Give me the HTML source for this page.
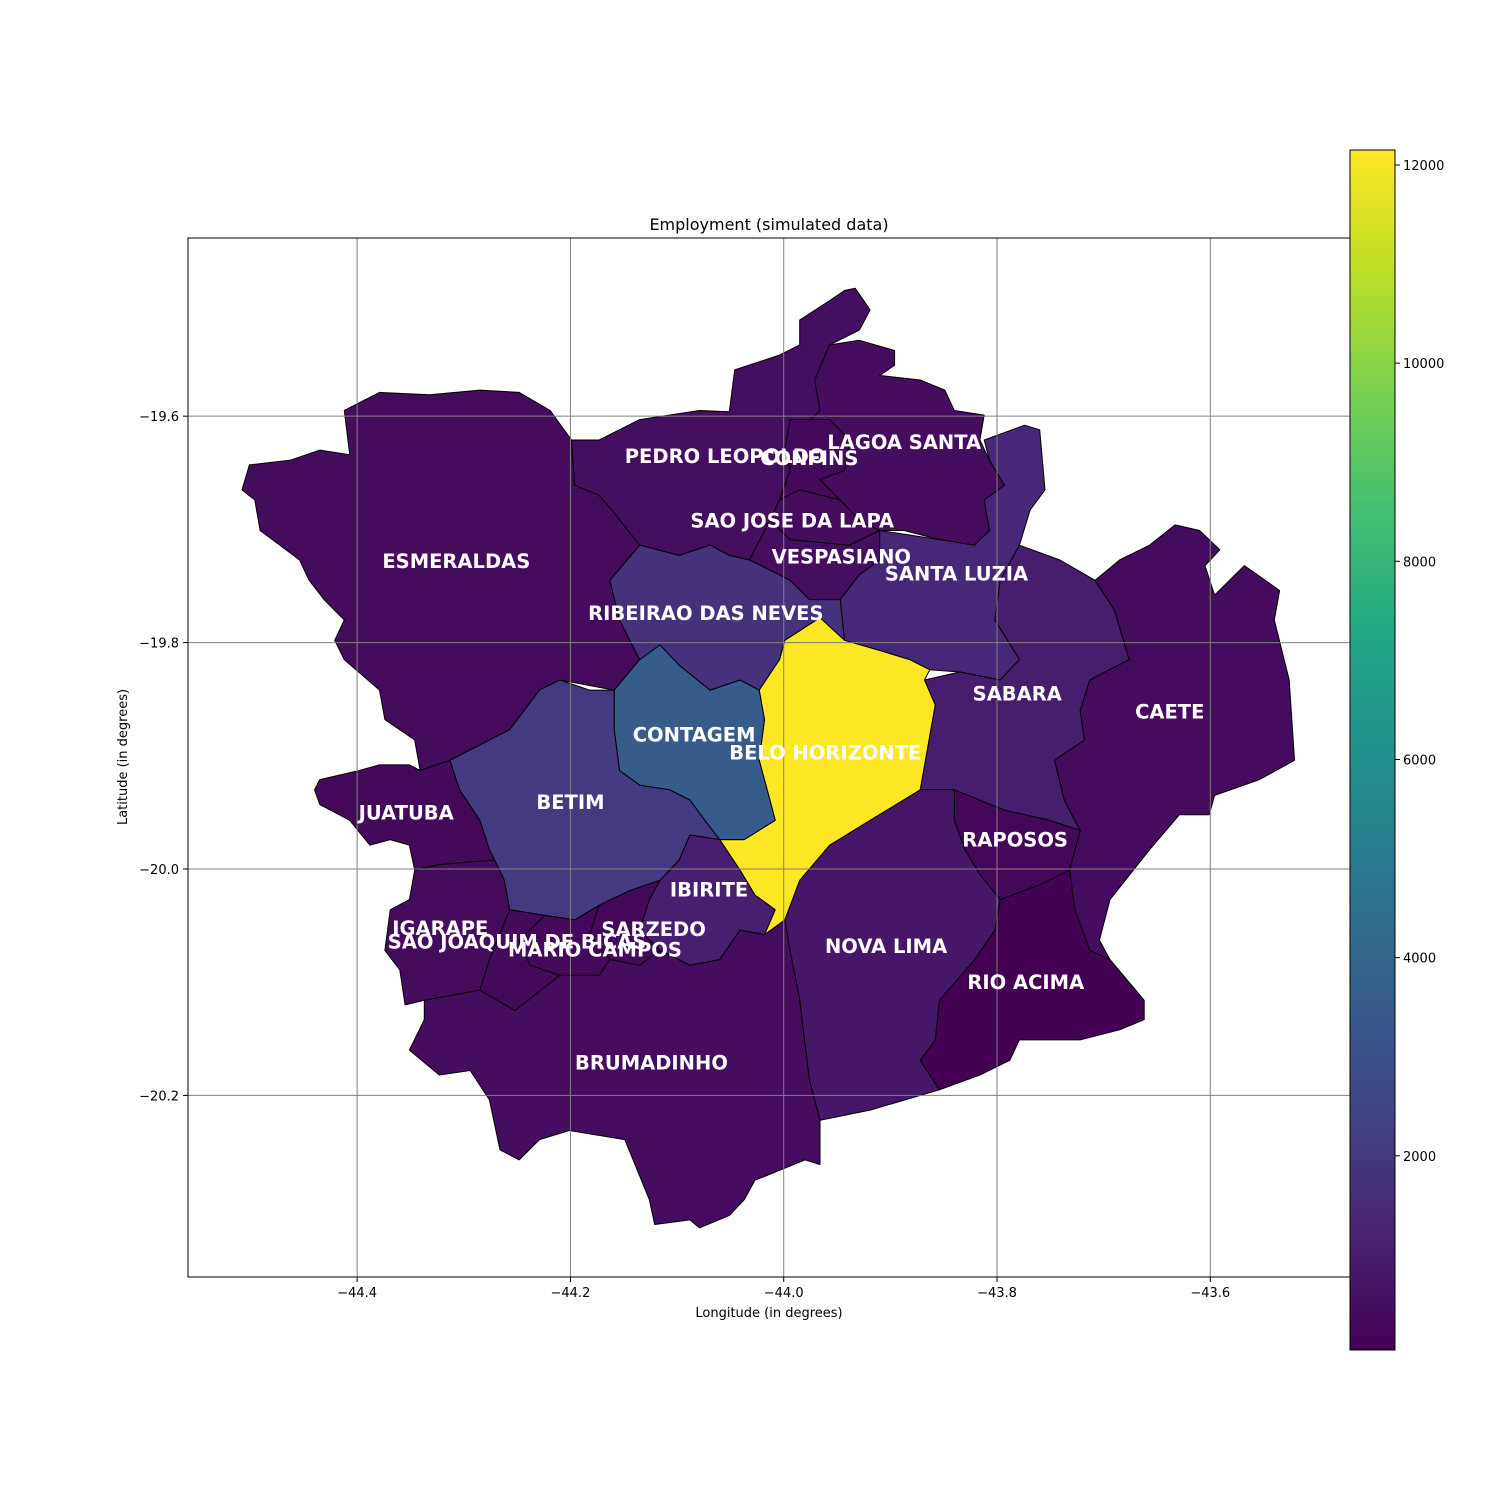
<!DOCTYPE html>
<html><head><meta charset="utf-8"><style>
html,body{margin:0;padding:0;background:#fff;}
svg{display:block;font-family:"DejaVu Sans","Liberation Sans",sans-serif;}
</style></head><body>
<svg id="chart" width="1500" height="1500" viewBox="0 0 1500 1500" xmlns="http://www.w3.org/2000/svg">
<rect width="1500" height="1500" fill="#fff"/>
<defs>
<linearGradient id="vir" x1="0" y1="1" x2="0" y2="0">
<stop offset="0" stop-color="#440154"/><stop offset="0.1" stop-color="#482475"/><stop offset="0.2" stop-color="#414487"/><stop offset="0.3" stop-color="#355f8d"/><stop offset="0.4" stop-color="#2a788e"/><stop offset="0.5" stop-color="#21918c"/><stop offset="0.6" stop-color="#22a884"/><stop offset="0.7" stop-color="#44bf70"/><stop offset="0.8" stop-color="#7ad151"/><stop offset="0.9" stop-color="#bddf26"/><stop offset="1" stop-color="#fde725"/>
</linearGradient>
<clipPath id="plotclip"><rect x="188" y="238" width="1162" height="1039"/></clipPath>
</defs>
<text x="769" y="230" font-size="16" text-anchor="middle">Employment (simulated data)</text>
<g id="regions" clip-path="url(#plotclip)"></g>
<g id="grid" clip-path="url(#plotclip)"></g>
<g id="labels"></g>
<rect x="188" y="238" width="1162" height="1039" fill="none" stroke="#000" stroke-width="1"/>
<g id="axes"></g>
<text x="769" y="1317" font-size="13" text-anchor="middle">Longitude (in degrees)</text>
<text transform="translate(127,757) rotate(-90)" font-size="13" text-anchor="middle">Latitude (in degrees)</text>
<rect x="1350" y="150" width="45" height="1200" fill="url(#vir)" stroke="#000" stroke-width="1"/>
<g id="cbticks"></g>
</svg>
<script>
const regionNames = ["ESMERALDAS","PEDRO LEOPOLDO","LAGOA SANTA","CONFINS","SAO JOSE DA LAPA","VESPASIANO","SANTA LUZIA","SABARA","CAETE","RAPOSOS","RIO ACIMA","NOVA LIMA","BELO HORIZONTE","CONTAGEM","RIBEIRAO DAS NEVES","BETIM","IBIRITE","SARZEDO","MARIO CAMPOS","BRUMADINHO","SAO JOAQUIM DE BICAS","IGARAPE","JUATUBA"];
const employment = [420,480,430,300,380,500,1370,1000,400,250,40,760,12151,3550,1740,2100,1050,330,300,430,330,380,330];
const labelLon = [-44.307,-44.055,-43.887,-43.976,-43.992,-43.946,-43.838,-43.781,-43.638,-43.783,-43.773,-43.904,-43.961,-44.084,-44.073,-44.200,-44.070,-44.122,-44.177,-44.124,-44.250,-44.322,-44.354];
const labelLat = [-19.728,-19.635,-19.623,-19.637,-19.692,-19.724,-19.739,-19.845,-19.861,-19.974,-20.100,-20.068,-19.897,-19.881,-19.774,-19.941,-20.018,-20.053,-20.071,-20.171,-20.064,-20.052,-19.950];
const xTicks = [-44.4,-44.2,-44.0,-43.8,-43.6];
const yTicks = [-19.6,-19.8,-20.0,-20.2];
const cbTicks = [2000,4000,6000,8000,10000,12000];
const boundaries = [
"-44.412,-19.595 -44.379,-19.579 -44.332,-19.581 -44.285,-19.577 -44.248,-19.579 -44.219,-19.595 -44.199,-19.621 -44.196,-19.661 -44.173,-19.670 -44.161,-19.683 -44.135,-19.714 -44.163,-19.745 -44.154,-19.780 -44.135,-19.815 -44.159,-19.842 -44.210,-19.833 -44.229,-19.842 -44.257,-19.877 -44.313,-19.904 -44.341,-19.913 -44.346,-19.886 -44.374,-19.868 -44.379,-19.842 -44.412,-19.815 -44.421,-19.798 -44.412,-19.780 -44.431,-19.762 -44.445,-19.745 -44.454,-19.727 -44.491,-19.701 -44.496,-19.674 -44.508,-19.665 -44.501,-19.643 -44.463,-19.639 -44.435,-19.630 -44.407,-19.634",
"-44.199,-19.621 -44.173,-19.621 -44.135,-19.603 -44.079,-19.595 -44.051,-19.596 -44.046,-19.559 -44.004,-19.546 -43.985,-19.537 -43.985,-19.515 -43.957,-19.498 -43.943,-19.489 -43.933,-19.487 -43.919,-19.506 -43.929,-19.524 -43.957,-19.537 -43.971,-19.568 -43.966,-19.595 -43.985,-19.612 -43.994,-19.648 -44.004,-19.674 -44.013,-19.692 -44.032,-19.727 -44.051,-19.723 -44.069,-19.714 -44.098,-19.723 -44.135,-19.714 -44.161,-19.683 -44.173,-19.670 -44.196,-19.661",
"-43.971,-19.568 -43.957,-19.537 -43.929,-19.533 -43.896,-19.542 -43.896,-19.555 -43.910,-19.564 -43.872,-19.568 -43.849,-19.577 -43.840,-19.595 -43.812,-19.599 -43.816,-19.621 -43.807,-19.639 -43.793,-19.661 -43.812,-19.674 -43.807,-19.701 -43.821,-19.714 -43.854,-19.709 -43.887,-19.701 -43.910,-19.701 -43.929,-19.692 -43.947,-19.674 -43.966,-19.656 -43.985,-19.612 -43.966,-19.595",
"-43.994,-19.603 -43.957,-19.603 -43.938,-19.621 -43.943,-19.648 -43.966,-19.656 -43.947,-19.674 -43.985,-19.665 -44.004,-19.674 -43.994,-19.648 -43.999,-19.630",
"-44.013,-19.692 -44.004,-19.674 -43.985,-19.665 -43.947,-19.674 -43.929,-19.692 -43.910,-19.701 -43.938,-19.714 -43.976,-19.718 -43.994,-19.709",
"-44.032,-19.727 -44.013,-19.692 -43.994,-19.709 -43.938,-19.714 -43.910,-19.701 -43.910,-19.727 -43.929,-19.740 -43.947,-19.762 -43.976,-19.762 -43.994,-19.745",
"-43.947,-19.762 -43.929,-19.740 -43.910,-19.727 -43.910,-19.701 -43.854,-19.709 -43.821,-19.714 -43.807,-19.701 -43.812,-19.674 -43.793,-19.661 -43.807,-19.639 -43.812,-19.621 -43.774,-19.608 -43.760,-19.612 -43.755,-19.665 -43.769,-19.683 -43.779,-19.714 -43.797,-19.745 -43.802,-19.780 -43.779,-19.815 -43.797,-19.833 -43.835,-19.826 -43.863,-19.824 -43.882,-19.815 -43.910,-19.807 -43.943,-19.798",
"-43.802,-19.780 -43.797,-19.745 -43.779,-19.714 -43.741,-19.727 -43.708,-19.745 -43.690,-19.771 -43.676,-19.815 -43.713,-19.833 -43.722,-19.860 -43.718,-19.886 -43.746,-19.904 -43.737,-19.939 -43.722,-19.966 -43.751,-19.957 -43.793,-19.948 -43.826,-19.939 -43.840,-19.930 -43.872,-19.930 -43.858,-19.855 -43.868,-19.833 -43.835,-19.826 -43.797,-19.833 -43.779,-19.815",
"-43.708,-19.745 -43.685,-19.727 -43.657,-19.714 -43.633,-19.696 -43.610,-19.701 -43.591,-19.718 -43.605,-19.732 -43.596,-19.758 -43.568,-19.732 -43.535,-19.754 -43.540,-19.780 -43.526,-19.833 -43.521,-19.904 -43.554,-19.921 -43.596,-19.935 -43.601,-19.952 -43.629,-19.952 -43.657,-19.983 -43.694,-20.027 -43.704,-20.063 -43.694,-20.080 -43.713,-20.072 -43.727,-20.036 -43.732,-20.001 -43.722,-19.966 -43.737,-19.939 -43.746,-19.904 -43.718,-19.886 -43.722,-19.860 -43.713,-19.833 -43.676,-19.815 -43.690,-19.771",
"-43.840,-19.930 -43.793,-19.948 -43.751,-19.957 -43.722,-19.966 -43.732,-20.001 -43.760,-20.014 -43.797,-20.027 -43.816,-20.005 -43.830,-19.983 -43.840,-19.957",
"-43.797,-20.027 -43.760,-20.014 -43.732,-20.001 -43.727,-20.036 -43.713,-20.072 -43.694,-20.080 -43.662,-20.116 -43.662,-20.133 -43.685,-20.142 -43.722,-20.151 -43.779,-20.151 -43.788,-20.169 -43.816,-20.182 -43.854,-20.195 -43.872,-20.169 -43.858,-20.151 -43.854,-20.116 -43.821,-20.080 -43.802,-20.054",
"-43.999,-20.045 -43.985,-20.010 -43.957,-19.979 -43.919,-19.957 -43.872,-19.930 -43.840,-19.930 -43.840,-19.957 -43.830,-19.983 -43.816,-20.005 -43.797,-20.027 -43.802,-20.054 -43.821,-20.080 -43.854,-20.116 -43.858,-20.151 -43.872,-20.169 -43.854,-20.195 -43.919,-20.213 -43.966,-20.222 -43.976,-20.186 -43.985,-20.116 -43.994,-20.072",
"-43.999,-19.798 -43.966,-19.778 -43.947,-19.780 -43.943,-19.798 -43.910,-19.807 -43.882,-19.815 -43.863,-19.824 -43.868,-19.833 -43.858,-19.855 -43.872,-19.930 -43.919,-19.957 -43.957,-19.979 -43.985,-20.010 -43.999,-20.045 -44.004,-20.058 -44.018,-20.058 -44.008,-20.036 -44.027,-20.023 -44.041,-20.001 -44.060,-19.974 -44.037,-19.974 -44.008,-19.957 -44.013,-19.939 -44.023,-19.904 -44.018,-19.868 -44.023,-19.842 -44.004,-19.815",
"-44.159,-19.842 -44.135,-19.815 -44.116,-19.802 -44.098,-19.820 -44.069,-19.842 -44.041,-19.833 -44.023,-19.842 -44.018,-19.868 -44.023,-19.904 -44.013,-19.939 -44.008,-19.957 -44.037,-19.974 -44.060,-19.974 -44.074,-19.957 -44.088,-19.939 -44.107,-19.930 -44.135,-19.926 -44.154,-19.913 -44.159,-19.877",
"-44.163,-19.745 -44.135,-19.714 -44.098,-19.723 -44.069,-19.714 -44.051,-19.723 -44.032,-19.727 -43.994,-19.745 -43.976,-19.762 -43.947,-19.762 -43.943,-19.798 -43.966,-19.778 -43.999,-19.798 -44.004,-19.815 -44.023,-19.842 -44.041,-19.833 -44.069,-19.842 -44.098,-19.820 -44.116,-19.802 -44.135,-19.815 -44.154,-19.780",
"-44.313,-19.904 -44.257,-19.877 -44.229,-19.842 -44.210,-19.833 -44.182,-19.842 -44.159,-19.842 -44.159,-19.877 -44.154,-19.913 -44.135,-19.926 -44.107,-19.930 -44.088,-19.939 -44.074,-19.957 -44.060,-19.974 -44.088,-19.970 -44.098,-19.992 -44.116,-20.010 -44.144,-20.019 -44.173,-20.032 -44.196,-20.045 -44.224,-20.041 -44.257,-20.036 -44.262,-20.010 -44.276,-19.983 -44.285,-19.957 -44.304,-19.930",
"-44.060,-19.974 -44.041,-20.001 -44.027,-20.023 -44.008,-20.036 -44.018,-20.058 -44.041,-20.054 -44.060,-20.080 -44.088,-20.085 -44.116,-20.072 -44.135,-20.054 -44.126,-20.027 -44.116,-20.010 -44.098,-19.992 -44.088,-19.970",
"-44.173,-20.032 -44.144,-20.019 -44.116,-20.010 -44.126,-20.027 -44.135,-20.054 -44.116,-20.072 -44.135,-20.085 -44.163,-20.080 -44.182,-20.058",
"-44.224,-20.041 -44.196,-20.045 -44.173,-20.032 -44.182,-20.058 -44.163,-20.080 -44.173,-20.094 -44.210,-20.094 -44.238,-20.085 -44.248,-20.063",
"-44.337,-20.116 -44.285,-20.107 -44.252,-20.125 -44.210,-20.094 -44.173,-20.094 -44.163,-20.080 -44.135,-20.085 -44.116,-20.072 -44.088,-20.085 -44.060,-20.080 -44.041,-20.054 -44.018,-20.058 -43.999,-20.045 -43.994,-20.072 -43.985,-20.116 -43.976,-20.186 -43.966,-20.222 -43.966,-20.261 -43.980,-20.257 -44.027,-20.275 -44.037,-20.292 -44.051,-20.306 -44.079,-20.317 -44.088,-20.310 -44.121,-20.314 -44.126,-20.292 -44.149,-20.239 -44.201,-20.231 -44.229,-20.239 -44.248,-20.257 -44.266,-20.248 -44.276,-20.204 -44.294,-20.178 -44.323,-20.182 -44.351,-20.160 -44.337,-20.133",
"-44.285,-20.107 -44.276,-20.080 -44.257,-20.036 -44.224,-20.041 -44.248,-20.063 -44.238,-20.085 -44.210,-20.094 -44.252,-20.125",
"-44.346,-20.001 -44.323,-19.996 -44.271,-19.992 -44.262,-20.010 -44.257,-20.036 -44.276,-20.080 -44.285,-20.107 -44.337,-20.116 -44.355,-20.120 -44.360,-20.089 -44.374,-20.072 -44.369,-20.036 -44.351,-20.027",
"-44.435,-19.921 -44.398,-19.913 -44.379,-19.908 -44.351,-19.908 -44.341,-19.913 -44.313,-19.904 -44.304,-19.930 -44.285,-19.957 -44.276,-19.983 -44.271,-19.992 -44.323,-19.996 -44.346,-20.001 -44.351,-19.979 -44.369,-19.974 -44.388,-19.979 -44.407,-19.957 -44.435,-19.943 -44.440,-19.930"
];

const NS = "http://www.w3.org/2000/svg";
const X0 = 188, X1 = 1350, Y0 = 238, Y1 = 1277;
const lonMin = -44.5586, lonMax = -43.4690, latMax = -19.4426, latMin = -20.3604;
function xScale(lon){ return X0 + (lon - lonMin) / (lonMax - lonMin) * (X1 - X0); }
function yScale(lat){ return Y0 + (latMax - lat) / (latMax - latMin) * (Y1 - Y0); }
const vmin = Math.min(...employment), vmax = Math.max(...employment);
function cbScale(v){ return 1350 - (v - vmin) / (vmax - vmin) * 1200; }
const vir = [[68,1,84],[72,36,117],[65,68,135],[53,95,141],[42,120,142],[33,145,140],[34,168,132],[68,191,112],[122,209,81],[189,223,38],[253,231,37]];
function viridis(t){
  t = Math.max(0, Math.min(1, t));
  const s = t * 10, i = Math.min(9, Math.floor(s)), f = s - i;
  const a = vir[i], b = vir[i+1];
  return "rgb(" + a.map((c,k)=>Math.round(c + (b[k]-c)*f)).join(",") + ")";
}
function mk(tag, attrs, parent){
  const el = document.createElementNS(NS, tag);
  for (const k in attrs) el.setAttribute(k, attrs[k]);
  parent.appendChild(el); return el;
}
const gReg = document.getElementById("regions");
boundaries.forEach((b, i) => {
  const pts = b.split(" ").map(p => { const [lo, la] = p.split(",").map(Number); return xScale(lo).toFixed(1) + "," + yScale(la).toFixed(1); }).join(" ");
  const el = mk("polygon", {points: pts, fill: viridis((employment[i]-vmin)/(vmax-vmin)), stroke: "#000", "stroke-width": "1", "stroke-linejoin": "round"}, gReg);
  
  
});
const gGrid = document.getElementById("grid");
const gAx = document.getElementById("axes");
xTicks.forEach(t => {
  const x = xScale(t);
  const gl = mk("line", {x1: x, x2: x, y1: Y0, y2: Y1, stroke: "#808080", "stroke-width": "1"}, gGrid);
  
  
  mk("line", {x1: x, x2: x, y1: Y1, y2: Y1 + 5, stroke: "#000"}, gAx);
  const tx = mk("text", {x: x, y: Y1 + 20, "font-size": "13", "text-anchor": "middle"}, gAx);
  tx.textContent = "\u2212" + Math.abs(t).toFixed(1);
  
  
});
yTicks.forEach(t => {
  const y = yScale(t);
  const gl = mk("line", {x1: X0, x2: X1, y1: y, y2: y, stroke: "#808080", "stroke-width": "1"}, gGrid);
  
  
  mk("line", {x1: X0 - 5, x2: X0, y1: y, y2: y, stroke: "#000"}, gAx);
  const tx = mk("text", {x: X0 - 9, y: y + 5, "font-size": "13", "text-anchor": "end"}, gAx);
  tx.textContent = "\u2212" + Math.abs(t).toFixed(1);
  
  
});
const gLab = document.getElementById("labels");
regionNames.forEach((n, i) => {
  const tx = mk("text", {x: xScale(labelLon[i]), y: yScale(labelLat[i]) + 7, "font-size": "19.5", "font-weight": "bold", fill: "#fff", "text-anchor": "middle"}, gLab);
  tx.textContent = n;
  
  
});
const gCb = document.getElementById("cbticks");
cbTicks.forEach(t => {
  const y = cbScale(t);
  mk("line", {x1: 1395, x2: 1400, y1: y, y2: y, stroke: "#000"}, gCb);
  const tx = mk("text", {x: 1403, y: y + 5, "font-size": "13"}, gCb);
  tx.textContent = String(t);
  
  
});
</script>
</body></html>
